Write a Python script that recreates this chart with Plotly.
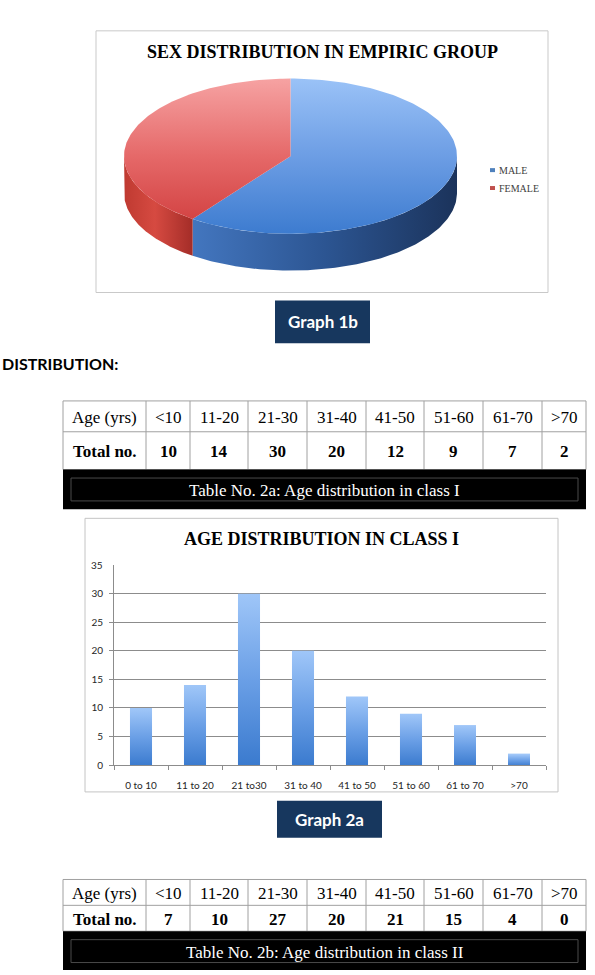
import numpy as np
import plotly.graph_objects as go

# ---------------- data ----------------
sex_labels = ["MALE", "FEMALE"]
sex_values = [60, 40]

age_groups = ["&lt;10", "11-20", "21-30", "31-40", "41-50", "51-60", "61-70", "&gt;70"]
class1_totals = [10, 14, 30, 20, 12, 9, 7, 2]
class2_totals = [7, 10, 27, 20, 21, 15, 4, 0]

bar_categories = ["0 to 10", "11 to 20", "21 to30", "31 to 40", "41 to 50", "51 to 60", "61 to 70", "&gt;70"]
y_ticks = [0, 5, 10, 15, 20, 25, 30]
y_top_label = 35

W, H = 595, 975


def px(x):
    return x / W


def py(y):
    return 1 - y / H


fig = go.Figure()

# ---------------- 3D pie (page-pixel overlay axes x2/y2) ----------------
CX, CY, RX, RY, DEPTH = 290.5, 157.0, 166.5, 78.0, 37.0
total = sum(sex_values)
female_frac = sex_values[1] / total
b = 270 - 360 * female_frac  # boundary angle (screen degrees, y down)
slices = {"MALE": (-90.0, b), "FEMALE": (b, 270.0)}


def arc(t0, t1, n=160):
    t = np.radians(np.linspace(t0, t1, n))
    return CX + RX * np.cos(t), CY + RY * np.sin(t)


side_grad = {
    "MALE": [[0, "#4376BF"], [0.5, "#2C5592"], [1, "#1B335B"]],
    "FEMALE": [[0, "#BF3A31"], [0.45, "#D64A41"], [1, "#A42D28"]],
}
top_grad = {
    "MALE": [[0, "#9AC2F7"], [0.5, "#6C9DE4"], [1, "#3C7BCF"]],
    "FEMALE": [[0, "#F6A2A2"], [0.5, "#E56868"], [1, "#CF3B3B"]],
}

for name, (a0, a1) in slices.items():
    s0, s1 = max(a0, 0), min(a1, 180)
    if s1 <= s0:
        continue
    xs, ys = arc(s0, s1)
    X = np.concatenate([xs, xs[::-1], xs[:1]])
    Y = np.concatenate([ys, ys[::-1] + DEPTH, ys[:1]])
    fig.add_trace(go.Scatter(
        x=X, y=Y, xaxis="x2", yaxis="y2", mode="lines", line=dict(width=0),
        fill="toself",
        fillgradient=dict(type="horizontal", colorscale=side_grad[name],
                          start=float(X.min()), stop=float(X.max())),
        hoverinfo="skip", showlegend=False))

for name, (a0, a1) in slices.items():
    xs, ys = arc(a0, a1)
    X = np.concatenate([[CX], xs, [CX]])
    Y = np.concatenate([[CY], ys, [CY]])
    fig.add_trace(go.Scatter(
        x=X, y=Y, xaxis="x2", yaxis="y2", mode="lines", line=dict(width=0),
        fill="toself",
        fillgradient=dict(type="vertical", colorscale=top_grad[name],
                          start=CY - RY, stop=CY + RY),
        hoverinfo="skip", showlegend=False))

# ---------------- bar chart (class I) ----------------
HW = 0.204
for i, v in enumerate(class1_totals):
    if v <= 0:
        continue
    fig.add_trace(go.Scatter(
        x=[i - HW, i + HW, i + HW, i - HW, i - HW], y=[0, 0, v, v, 0],
        xaxis="x", yaxis="y", mode="lines", line=dict(width=0), fill="toself",
        fillgradient=dict(type="vertical",
                          colorscale=[[0, "#3A7ACE"], [0.5, "#6A9FE6"], [1, "#9FC6F8"]],
                          start=0, stop=v),
        hoverinfo="skip", showlegend=False, name=bar_categories[i]))

shapes = []
annotations = []


def rect(x0, y0, x1, y1, fill=None, line=None, lw=1):
    shapes.append(dict(type="rect", xref="x2", yref="y2", x0=x0, y0=y0, x1=x1, y1=y1,
                       fillcolor=fill or "rgba(0,0,0,0)",
                       line=dict(color=line or "rgba(0,0,0,0)", width=lw if line else 0),
                       layer="above"))


def hline(x0, x1, y, color="#A0A0A0"):
    shapes.append(dict(type="line", xref="x2", yref="y2", x0=x0, x1=x1, y0=y, y1=y,
                       line=dict(color=color, width=1), layer="above"))


def vline(x, y0, y1, color="#A0A0A0"):
    shapes.append(dict(type="line", xref="x2", yref="y2", x0=x, x1=x, y0=y0, y1=y1,
                       line=dict(color=color, width=1), layer="above"))


def text(x, y, s, size, family, color="black", xanchor="center"):
    annotations.append(dict(x=x, y=y, xref="x2", yref="y2", text=s, showarrow=False,
                            xanchor=xanchor, yanchor="middle",
                            font=dict(size=size, family=family, color=color)))


# ---------------- tables ----------------
col_widths = [83, 44, 58, 59, 59, 58, 59, 59, 44]
TX0 = 63
col_edges = list(np.cumsum([TX0] + col_widths))
TFONT = "Liberation Serif"


def table(values, top, h1, h2, caption, cap_h):
    y1 = top + h1
    y2 = y1 + h2
    hline(col_edges[0], col_edges[-1], top)
    hline(col_edges[0], col_edges[-1], y1)
    hline(col_edges[0], col_edges[-1], y2)
    for e in col_edges:
        vline(e, top, y2)
    header = ["Age (yrs)"] + age_groups
    row = ["<b>Total no.</b>"] + [f"<b>{v}</b>" for v in values]
    for k in range(len(header)):
        cx = (col_edges[k] + col_edges[k + 1]) / 2
        text(cx, top + h1 / 2 + 1, header[k], 17, TFONT)
        text(cx, y1 + h2 / 2 + 1, row[k], 17, TFONT)
    rect(col_edges[0], y2, col_edges[-1], y2 + cap_h, fill="black")
    rect(col_edges[0] + 8, y2 + 8.5, col_edges[-1] - 8, y2 + cap_h - 8.5, line="#4A4A4A")
    text((col_edges[0] + col_edges[-1]) / 2, y2 + cap_h / 2 + 1, caption, 17, TFONT, "white")


table(class1_totals, 403, 31, 38, "Table No. 2a: Age distribution in class I", 40)
table(class2_totals, 884, 26, 26, "Table No. 2b: Age distribution in class II", 40)

# chart frames
rect(96, 31, 548, 294, line="#C9C9C9")
rect(85, 521, 558, 796, line="#C4C4C4")

# titles
text(322, 52, "<b>SEX DISTRIBUTION IN EMPIRIC GROUP</b>", 18, "Liberation Serif")
text(321.5, 542, "<b>AGE DISTRIBUTION IN CLASS I</b>", 18, "Liberation Serif")

# pie legend
legend_colors = ["#4F81BD", "#C0504D"]
for k, (lab, col) in enumerate(zip(sex_labels, legend_colors)):
    yy = 171 + 18 * k
    rect(490, yy - 2, 495, yy + 2, fill=col)
    text(497, yy, lab, 10, "Liberation Serif", "#404040", xanchor="left")

# graph labels
rect(275, 302, 370, 345, fill="#17375E")
text(322.5, 323.5, "<b>Graph 1b</b>", 17, "Lato", "white")
rect(277, 805, 382, 842, fill="#17375E")
text(329.5, 823.5, "<b>Graph 2a</b>", 17, "Lato", "white")

text(0, 365, "<b>DISTRIBUTION:</b>", 16, "Lato", xanchor="left")

# '35' tick label (top tick without gridline)
annotations.append(dict(x=px(105), y=y_top_label, xref="paper", yref="y", text=str(y_top_label),
                        showarrow=False, xanchor="right", yanchor="middle",
                        font=dict(size=10, family="Lato", color="#262626")))

tick_font = dict(size=10, family="Lato", color="#262626")
fig.update_layout(
    width=W, height=H, margin=dict(l=0, r=0, t=0, b=0),
    paper_bgcolor="white", plot_bgcolor="rgba(0,0,0,0)", showlegend=False,
    xaxis=dict(domain=[px(114), px(546)], range=[-0.5, 7.5], anchor="y",
               tickmode="array", tickvals=list(range(len(bar_categories))), ticktext=bar_categories,
               ticks="", showgrid=False, zeroline=False, showline=True, linecolor="#8C8C8C",
               linewidth=1, tickfont=tick_font, ticklabelstandoff=11,
               minor=dict(tickmode="linear", tick0=-0.5, dtick=1, ticks="outside", ticklen=4,
                          tickcolor="#8C8C8C", showgrid=False),
               fixedrange=True),
    yaxis=dict(domain=[py(769), py(568)], range=[0, 35], anchor="x",
               tickmode="array", tickvals=y_ticks, ticks="outside", ticklen=4,
               tickcolor="#8C8C8C", showgrid=True, gridcolor="#8C8C8C", gridwidth=1,
               zeroline=False, showline=True, linecolor="#8C8C8C", linewidth=1,
               tickfont=tick_font, ticklabelstandoff=4, fixedrange=True),
    xaxis2=dict(domain=[0, 1], range=[0, W], anchor="y2", visible=False, fixedrange=True),
    yaxis2=dict(domain=[0, 1], range=[H, 0], anchor="x2", visible=False, fixedrange=True),
    shapes=shapes, annotations=annotations,
)

fig.write_html("out.html")
